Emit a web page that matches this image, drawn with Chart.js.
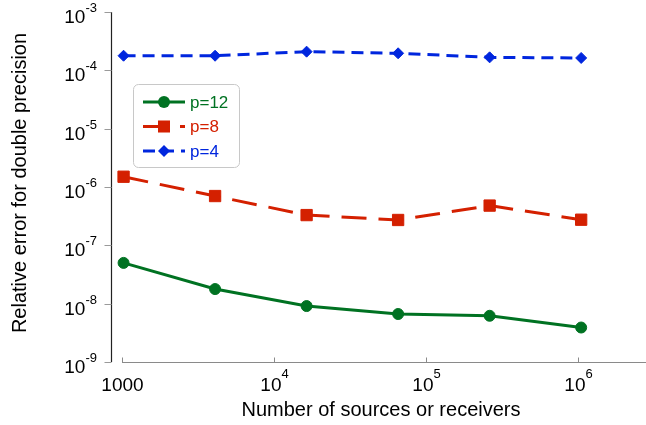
<!DOCTYPE html>
<html>
<head>
<meta charset="utf-8">
<title>Relative error vs number of sources</title>
<script src="https://cdn.jsdelivr.net/npm/chart.js@4"></script>
<style>
  html, body { margin: 0; padding: 0; background: #fff; }
  canvas { display: block; }
</style>
</head>
<body>
<canvas id="errChart" width="646" height="425"></canvas>
<script>
// Problem sizes (powers of four) and measured relative errors per expansion order
const sizes = [1024, 4096, 16384, 65536, 262144, 1048576];
const errP12 = [5.0e-8, 1.78e-8, 9.1e-9, 6.65e-9, 6.2e-9, 3.9e-9];
const errP8 = [1.5e-6, 7.0e-7, 3.3e-7, 2.72e-7, 4.8e-7, 2.75e-7];
const errP4 = [1.78e-4, 1.78e-4, 2.09e-4, 1.96e-4, 1.67e-4, 1.63e-4];

const xTickExps = [3, 4, 5, 6];
const yTickExps = [-3, -4, -5, -6, -7, -8, -9];

const xTitle = "Number of sources or receivers";
const yTitle = "Relative error for double precision";

const FONT = "'Liberation Sans', Arial, sans-serif";

function toPoints(vals) {
    return vals.map((v, i) => ({ x: sizes[i], y: v }));
}

// "10" with a raised exponent, left edge at x
function drawPower(ctx, exp, x, baseY, supShift) {
    ctx.font = "19px " + FONT;
    ctx.textAlign = "left";
    ctx.textBaseline = "alphabetic";
    ctx.fillText("10", x, baseY);
    const w = ctx.measureText("10").width;
    ctx.font = "13px " + FONT;
    ctx.fillText(String(exp), x + w, baseY - supShift);
}

function powerWidth(ctx, exp) {
    ctx.font = "19px " + FONT;
    const a = ctx.measureText("10").width;
    ctx.font = "13px " + FONT;
    return a + ctx.measureText(String(exp)).width;
}

// Detached axes: y axis set off to the left, x axis starting at the first decade
const axesPlugin = {
    id: "axesPlugin",
    beforeDatasetsDraw(chart) {
        const ctx = chart.ctx;
        const xs = chart.scales.x;
        const ys = chart.scales.y;
        const area = chart.chartArea;
        const axisX = area.left - 10.5;
        const axisY = area.bottom + 0.5;

        ctx.save();
        // y axis
        ctx.strokeStyle = "#222";
        ctx.lineWidth = 1.2;
        ctx.beginPath();
        ctx.moveTo(axisX, area.top);
        ctx.lineTo(axisX, area.bottom);
        ctx.stroke();
        ctx.strokeStyle = "#9a9a9a";
        ctx.lineWidth = 1;
        ctx.fillStyle = "#000";
        yTickExps.forEach((e) => {
            const py = Math.round(ys.getPixelForValue(Math.pow(10, e))) + 0.5;
            ctx.beginPath();
            ctx.moveTo(axisX - 7, py);
            ctx.lineTo(axisX, py);
            ctx.stroke();
            const w = powerWidth(ctx, "-" + (-e));
            drawPower(ctx, "-" + (-e), 97 - w, py + 10.5, 11);
        });

        // x axis
        ctx.strokeStyle = "#8a8a8a";
        ctx.beginPath();
        ctx.moveTo(area.left, axisY);
        ctx.lineTo(area.right, axisY);
        ctx.stroke();
        xTickExps.forEach((e) => {
            const px = Math.round(xs.getPixelForValue(Math.pow(10, e))) + 0.5;
            ctx.beginPath();
            ctx.moveTo(px, axisY - 5);
            ctx.lineTo(px, axisY);
            ctx.stroke();
            if (e === 3) {
                ctx.font = "19px " + FONT;
                ctx.textAlign = "center";
                ctx.fillText("1000", px, 391);
            } else {
                const w = powerWidth(ctx, e);
                drawPower(ctx, e, px - w / 2, 391, 13);
            }
        });

        // axis titles
        ctx.font = "20px " + FONT;
        ctx.textAlign = "center";
        ctx.textBaseline = "alphabetic";
        ctx.fillText(xTitle, (area.left + area.right) / 2 - 3, 416);
        ctx.translate(26, 183);
        ctx.rotate(-Math.PI / 2);
        ctx.fillText(yTitle, 0, 0);
        ctx.restore();
    },
};

// Boxed legend inside the plot, text coloured like its series
const legendBoxPlugin = {
    id: "legendBox",
    afterDraw(chart) {
        const ctx = chart.ctx;
        const box = { x: 133.5, y: 84.5, w: 106, h: 83 };
        ctx.save();
        ctx.fillStyle = "#fff";
        ctx.strokeStyle = "#c8c8c8";
        ctx.lineWidth = 1;
        ctx.beginPath();
        ctx.roundRect(box.x, box.y, box.w, box.h, 5);
        ctx.fill();
        ctx.stroke();

        chart.data.datasets.forEach((ds, i) => {
            const cy = 102 + i * 24.5;
            const x0 = 143, x1 = 185, cx = 164;
            ctx.strokeStyle = ds.borderColor;
            ctx.lineWidth = ds.borderWidth;
            ctx.setLineDash(ds.borderDash || []);
            ctx.beginPath();
            ctx.moveTo(x0, cy);
            ctx.lineTo(x1, cy);
            ctx.stroke();
            ctx.setLineDash([]);
            ctx.fillStyle = ds.borderColor;
            ctx.beginPath();
            const r = ds.pointRadius + 0.5;
            if (ds.pointStyle === "circle") {
                ctx.arc(cx, cy, r, 0, Math.PI * 2);
            } else if (ds.pointStyle === "rect") {
                const s = r * Math.SQRT1_2;
                ctx.rect(cx - s, cy - s, 2 * s, 2 * s);
            } else {
                ctx.moveTo(cx, cy - r);
                ctx.lineTo(cx + r, cy);
                ctx.lineTo(cx, cy + r);
                ctx.lineTo(cx - r, cy);
                ctx.closePath();
            }
            ctx.fill();
            ctx.font = "17px " + FONT;
            ctx.textAlign = "left";
            ctx.textBaseline = "middle";
            ctx.fillText(ds.label, 190, cy + 1);
        });
        ctx.restore();
    },
};

const green = "rgb(0,114,34)";
const red = "rgb(212,32,0)";
const blue = "rgb(0,38,222)";

new Chart(document.getElementById("errChart"), {
    type: "line",
    data: {
        datasets: [
            {
                label: "p=12",
                data: toPoints(errP12),
                borderColor: green,
                backgroundColor: green,
                borderWidth: 3,
                pointStyle: "circle",
                pointRadius: 5.5,
                pointBorderWidth: 1,
                clip: false,
            },
            {
                label: "p=8",
                data: toPoints(errP8),
                borderColor: red,
                backgroundColor: red,
                borderWidth: 3,
                borderDash: [25, 12],
                pointStyle: "rect",
                pointRadius: 8,
                pointBorderWidth: 1,
                clip: false,
            },
            {
                label: "p=4",
                data: toPoints(errP4),
                borderColor: blue,
                backgroundColor: blue,
                borderWidth: 3,
                borderDash: [12, 7],
                pointStyle: "rectRot",
                pointRadius: 5.5,
                pointBorderWidth: 1,
                clip: false,
            },
        ],
    },
    options: {
        responsive: false,
        animation: false,
        devicePixelRatio: 1,
        layout: {
            autoPadding: false,
            padding: { top: 12, right: 0, left: 0, bottom: 0 },
        },
        plugins: {
            legend: { display: false },
            tooltip: { enabled: false },
        },
        scales: {
            x: {
                type: "logarithmic",
                min: 1000,
                max: 2.8e6,
                grid: { display: false },
                border: { display: false },
                ticks: { display: false },
                afterFit: (s) => {
                    s.height = 63;
                    s.paddingLeft = 0;
                    s.paddingRight = 0;
                },
            },
            y: {
                type: "logarithmic",
                min: 1e-9,
                max: 1e-3,
                grid: { display: false },
                border: { display: false },
                ticks: { display: false },
                afterFit: (s) => {
                    s.width = 122;
                    s.paddingTop = 0;
                    s.paddingBottom = 0;
                },
            },
        },
    },
    plugins: [axesPlugin, legendBoxPlugin],
});
</script>
</body>
</html>
